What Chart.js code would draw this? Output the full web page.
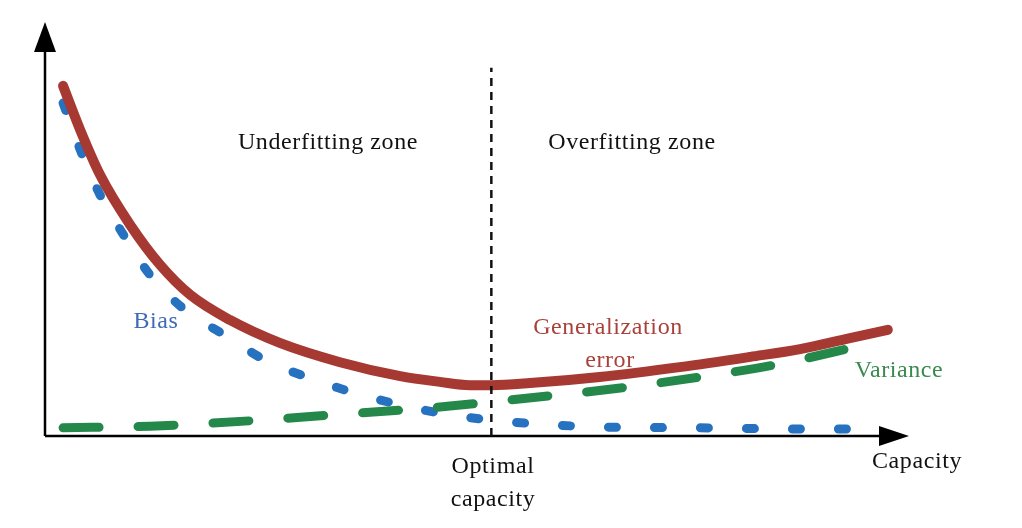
<!DOCTYPE html>
<html>
<head>
<meta charset="utf-8">
<script src="https://cdn.jsdelivr.net/npm/chart.js@4.4.1/dist/chart.umd.min.js"></script>
<style>
  html, body { margin: 0; padding: 0; background: #fff; }
  #wrap { width: 1022px; height: 528px; position: relative; }
</style>
</head>
<body>
<div id="wrap"><canvas id="chart"></canvas></div>
<script>
// capacity (x) and values (y)
var errorX   = [2.1, 4.1, 6.4, 9.9, 13.4, 16.9, 21.5, 27.3, 34.3, 41.3, 45.9, 49.4, 51.9, 56.4, 64.5, 73.8, 82.0, 87.8, 93.6, 98.0];
var errorY   = [8.54, 7.46, 6.37, 5.15, 4.17, 3.44, 2.83, 2.27, 1.80, 1.46, 1.32, 1.24, 1.24, 1.29, 1.44, 1.68, 1.93, 2.12, 2.39, 2.59];
var biasX    = [2.1, 4.1, 6.4, 9.3, 12.2, 16.3, 20.9, 25.6, 30.8, 36.0, 41.3, 45.9, 51.7, 57.6, 64.5, 76.2, 87.8, 97.1];
var biasY    = [8.12, 6.98, 5.88, 4.85, 3.93, 3.07, 2.46, 1.85, 1.41, 1.05, 0.76, 0.56, 0.39, 0.29, 0.22, 0.20, 0.17, 0.17];
var varianceX = [2.1, 12.2, 23.8, 33.1, 41.3, 47.1, 51.9, 58.7, 66.9, 76.2, 85.5, 94.8];
var varianceY = [0.20, 0.24, 0.37, 0.51, 0.63, 0.73, 0.83, 0.98, 1.17, 1.44, 1.76, 2.20];
var optimalX = 51.9;
var optimalTop = 8.98;

function pts(xs, ys) {
  return xs.map(function (x, i) { return { x: x, y: ys[i] }; });
}

var serif = '"Liberation Serif", "DejaVu Serif", serif';

// axes with arrow heads and the text labels
var decor = {
  id: 'decor',
  beforeDatasetsDraw: function (chart) {
    var ctx = chart.ctx;
    var xs = chart.scales.x, ys = chart.scales.y;
    var x0 = xs.getPixelForValue(0), y0 = ys.getPixelForValue(0);
    ctx.save();
    ctx.strokeStyle = '#000';
    ctx.fillStyle = '#000';
    ctx.lineWidth = 2.5;
    ctx.beginPath();
    ctx.moveTo(x0, y0);
    ctx.lineTo(x0, 45);
    ctx.moveTo(x0, y0);
    ctx.lineTo(885, y0);
    ctx.stroke();
    ctx.beginPath();
    ctx.moveTo(x0, 22);
    ctx.lineTo(x0 - 11, 52);
    ctx.lineTo(x0 + 11, 52);
    ctx.closePath();
    ctx.fill();
    ctx.beginPath();
    ctx.moveTo(909, y0);
    ctx.lineTo(879, y0 - 10);
    ctx.lineTo(879, y0 + 10);
    ctx.closePath();
    ctx.fill();
    ctx.restore();
  },
  afterDraw: function (chart) {
    var ctx = chart.ctx;
    ctx.save();
    ctx.font = '24px ' + serif;
    ctx.letterSpacing = '0.6px';
    ctx.textAlign = 'center';
    ctx.textBaseline = 'middle';
    ctx.fillStyle = '#111';
    ctx.fillText('Underfitting zone', 328, 143);
    ctx.fillText('Overfitting zone', 632, 143);
    ctx.fillText('Optimal', 493, 467);
    ctx.fillText('capacity', 493, 500);
    ctx.fillText('Capacity', 917, 462);
    ctx.fillStyle = '#3d6bb5';
    ctx.fillText('Bias', 156, 322);
    ctx.fillStyle = '#a8413a';
    ctx.fillText('Generalization', 608, 328);
    ctx.fillText('error', 610, 361);
    ctx.fillStyle = '#3a8a4f';
    ctx.fillText('Variance', 899, 371);
    ctx.restore();
  }
};

new Chart('chart', {
  type: 'line',
  data: {
    datasets: [{
      label: 'Optimal capacity',
      data: [{ x: optimalX, y: 0 }, { x: optimalX, y: optimalTop }],
      borderColor: '#111',
      borderWidth: 2.5,
      borderDash: [8, 6],
      pointRadius: 0,
      order: 0
    }, {
      label: 'Generalization error',
      data: pts(errorX, errorY),
      borderColor: '#a63a33',
      borderWidth: 10,
      borderCapStyle: 'round',
      cubicInterpolationMode: 'monotone',
      pointRadius: 0,
      order: 1
    }, {
      label: 'Variance',
      data: pts(varianceX, varianceY),
      borderColor: '#23884a',
      borderWidth: 9,
      borderCapStyle: 'round',
      borderDash: [36, 39],
      cubicInterpolationMode: 'monotone',
      pointRadius: 0,
      order: 2
    }, {
      label: 'Bias',
      data: pts(biasX, biasY),
      borderColor: '#2671c0',
      borderWidth: 9,
      borderCapStyle: 'round',
      borderDash: [8, 38],
      cubicInterpolationMode: 'monotone',
      pointRadius: 0,
      order: 3
    }]
  },
  options: {
    responsive: true,
    maintainAspectRatio: false,
    animation: false,
    layout: { padding: { left: 45, right: 117, top: 26, bottom: 92 } },
    plugins: {
      legend: { display: false },
      tooltip: { enabled: false }
    },
    scales: {
      x: { type: 'linear', min: 0, max: 100, display: false },
      y: { min: 0, max: 10, display: false }
    }
  },
  plugins: [decor]
});
</script>
</body>
</html>
